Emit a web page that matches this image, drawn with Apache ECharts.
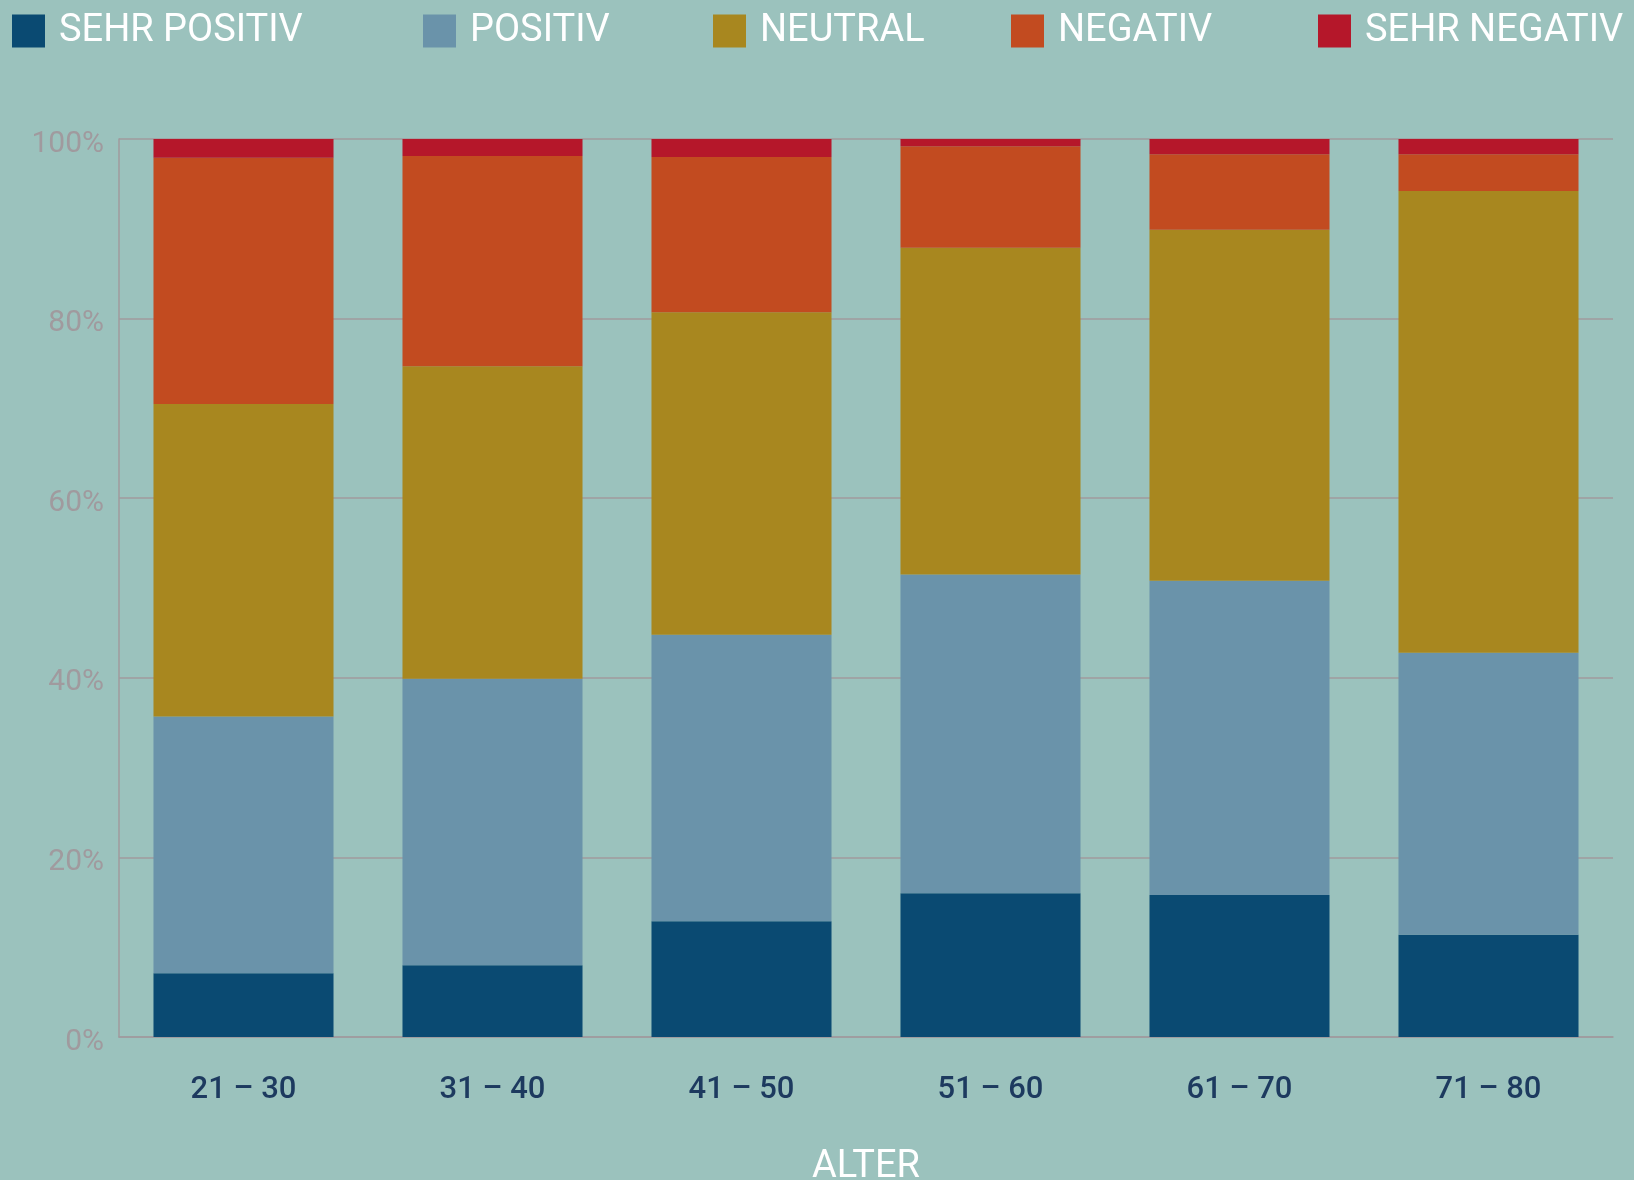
<!DOCTYPE html>
<html>
<head>
<meta charset="utf-8">
<script src="https://cdn.jsdelivr.net/npm/echarts@6/dist/echarts.min.js"></script>
<style>
html,body{margin:0;padding:0;background:#9bc2bd;}
#chart{width:1634px;height:1180px;}
</style>
</head>
<body>
<div id="chart"></div>
<script>
const categories = ['21 – 30', '31 – 40', '41 – 50', '51 – 60', '61 – 70', '71 – 80'];
const seriesNames = ['SEHR POSITIV', 'POSITIV', 'NEUTRAL', 'NEGATIV', 'SEHR NEGATIV'];
const sehrPositiv = [7.1, 8.0, 12.9, 16.0, 15.8, 11.4];
const positiv = [28.6, 31.9, 31.9, 35.5, 35.0, 31.4];
const neutral = [34.8, 34.8, 35.9, 36.4, 39.1, 51.4];
const negativ = [27.4, 23.4, 17.3, 11.3, 8.4, 4.1];
const sehrNegativ = [2.1, 1.9, 2.0, 0.8, 1.7, 1.7];
const yTicks = [0, 20, 40, 60, 80, 100];

const colors = ['#0a4a72', '#6a93aa', '#a8871f', '#c24b20', '#b5172a'];
const values = [sehrPositiv, positiv, neutral, negativ, sehrNegativ];
const legendLeft = [12, 423, 713, 1011, 1318];

const chart = echarts.init(document.getElementById('chart'), null, {renderer: 'canvas'});
chart.setOption({
  backgroundColor: '#9bc2bd',
  animation: false,
  legend: seriesNames.map((n, i) => ({
    data: [n],
    left: legendLeft[i],
    top: 12,
    padding: 0,
    itemWidth: 33,
    itemHeight: 33,
    icon: 'rect',
    textStyle: {color: '#ffffff', fontFamily: 'Roboto', fontSize: 38, padding: [0, 0, 0, 9]}
  })),
  grid: {left: 119, right: 21, top: 139, bottom: 143, containLabel: false, outerBoundsMode: 'none'},
  xAxis: {
    type: 'category',
    data: categories,
    name: 'ALTER',
    nameLocation: 'middle',
    nameGap: 111,
    nameTextStyle: {color: '#ffffff', fontFamily: 'Roboto', fontSize: 38},
    axisLine: {show: true, lineStyle: {color: '#a09a9e', width: 1.5}},
    axisTick: {show: false},
    axisLabel: {color: '#1d3a5f', fontFamily: 'Roboto', fontWeight: 500, fontSize: 31, margin: 38}
  },
  yAxis: {
    type: 'value',
    min: 0,
    max: 100,
    interval: 20,
    axisLine: {show: true, lineStyle: {color: '#a09a9e', width: 1.5}},
    axisTick: {show: false},
    splitLine: {show: true, lineStyle: {color: '#a09a9e', width: 1.5}},
    axisLabel: {
      color: '#a09a9e', fontFamily: 'Roboto', fontSize: 30, margin: 15,
      formatter: v => (yTicks.includes(v) ? '{a|' + v + '%}' : ''),
      rich: {a: {color: '#a09a9e', fontFamily: 'Roboto', fontSize: 30, padding: [10, 0, 0, 0]}}
    }
  },
  series: seriesNames.map((n, i) => ({
    name: n,
    type: 'bar',
    stack: 'total',
    barCategoryGap: '27.7%',
    itemStyle: {color: colors[i]},
    emphasis: {disabled: true},
    data: values[i]
  }))
});
</script>
</body>
</html>
